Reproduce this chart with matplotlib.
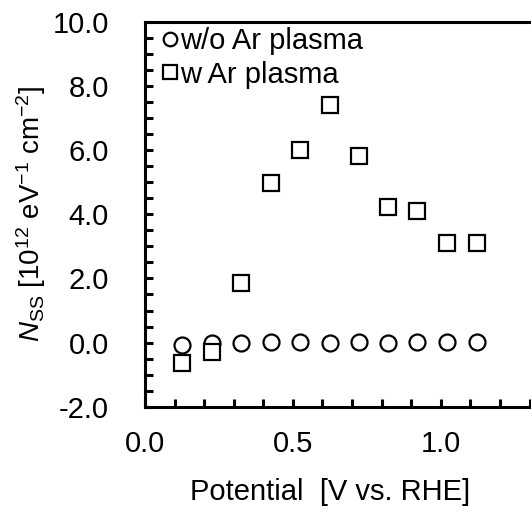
import matplotlib
matplotlib.use("Agg")
import matplotlib.pyplot as plt
from matplotlib.ticker import MultipleLocator, FormatStrFormatter

plt.rcParams['font.family'] = ['Liberation Sans', 'DejaVu Sans']
plt.rcParams['mathtext.fontset'] = 'custom'
plt.rcParams['mathtext.rm'] = 'Liberation Sans'
plt.rcParams['mathtext.it'] = 'Liberation Sans:italic'

potential = [0.124, 0.226, 0.325, 0.425, 0.524, 0.625, 0.723, 0.821, 0.919, 1.022, 1.123]
nss_wo = [-0.06, -0.02, 0.0, 0.02, 0.02, 0.0, 0.02, 0.0, 0.02, 0.02, 0.02]
nss_w = [-0.65, -0.28, 1.85, 4.99, 6.0, 7.41, 5.82, 4.24, 4.11, 3.1, 3.1]
labels = ["w/o Ar plasma", "w Ar plasma"]

fig = plt.figure(figsize=(5.31, 5.15), dpi=100)
ax = fig.add_axes([0.273, 0.2103, 0.727, 0.7470])

ax.plot(potential, nss_wo, linestyle='none', marker='o', markersize=11.5,
        markerfacecolor='white', markeredgecolor='black', markeredgewidth=1.6, label=labels[0])
ax.plot(potential, nss_w, linestyle='none', marker='s', markersize=11.5,
        markerfacecolor='white', markeredgecolor='black', markeredgewidth=1.6, label=labels[1])

ax.set_xlim(0, 1.305)
ax.set_ylim(-2, 10)
ax.xaxis.set_major_locator(MultipleLocator(0.5))
ax.xaxis.set_minor_locator(MultipleLocator(0.1))
ax.yaxis.set_major_locator(MultipleLocator(2))
ax.yaxis.set_minor_locator(MultipleLocator(0.5))
ax.xaxis.set_major_formatter(FormatStrFormatter('%.1f'))
ax.yaxis.set_major_formatter(FormatStrFormatter('%.1f'))

for s in ['left', 'bottom', 'top']:
    ax.spines[s].set_linewidth(2.2)
ax.spines['right'].set_visible(False)

ax.tick_params(which='both', direction='in', width=2.2, labelsize=21, top=False, right=False)
ax.tick_params(which='major', length=6, pad=26)
ax.tick_params(which='minor', length=6)
ax.tick_params(axis='x', which='major', pad=17)

ax.set_xlabel('Potential  [V vs. RHE]', fontsize=21)
ax.xaxis.set_label_coords(0.479, -0.185)
ax.set_ylabel(r'$\it{N}$$_{\rm SS}$ [10$^{12}$ eV$^{-1}$ cm$^{-2}$]', fontsize=20, labelpad=3)

leg = ax.legend(loc='upper left', bbox_to_anchor=(0.038, 0.995), frameon=False, fontsize=21,
                handlelength=0.5, handletextpad=0.1, borderaxespad=0.0, borderpad=0.1,
                labelspacing=0.2, markerscale=0.85)

fig.savefig('out.png', dpi=100)
